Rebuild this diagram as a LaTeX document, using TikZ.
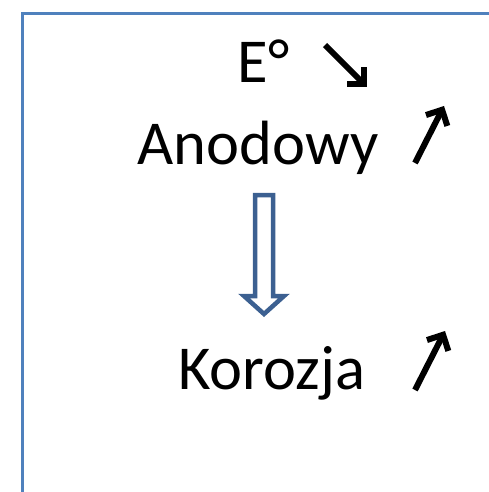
\documentclass[tikz,border=0pt]{standalone}
\usepackage{fontspec}
\setmainfont{Carlito}
\usetikzlibrary{arrows.meta}
\definecolor{frameblue}{RGB}{79,129,189}
\definecolor{arrowblue}{RGB}{60,96,145}
\tikzset{
  x=1pt, y=1pt,
  label text/.style={inner sep=0pt, anchor=base, font=\fontsize{62.5}{75}\selectfont},
  trend/.style={line width=6pt, -{Straight Barb[length=12pt,width=24pt,line width=6pt]}},
  hollow arrow/.style={draw=arrowblue, line width=4.5pt, fill=white, line join=miter}
}
\begin{document}
\begin{tikzpicture}
\useasboundingbox (0,0) rectangle (488,-492);
% frame
\draw[frameblue, line width=2.5pt] (22.5,-495) -- (22.5,-13.5) -- (495,-13.5);
% labels
\node[label text] (e) at (263.5,-83) {E°};
\node[label text] (anod) at (258,-164) {Anodowy};
\node[label text] (koroz) at (272,-389) {Korozja};
% trend arrows
\coordinate (e1) at (325,-45);
\coordinate (e2) at (367,-87);
\draw[trend] (e1) -- (e2);
\coordinate (a1) at (415,-163);
\coordinate (a2) at (444,-106);
\draw[trend] (a1) -- (a2);
\coordinate (k1) at (415,-390);
\coordinate (k2) at (445,-331);
\draw[trend] (k1) -- (k2);
% hollow arrow between labels
\draw[hollow arrow] (255,-195) -- (273,-195) -- (273,-296) -- (284,-296)
  -- (264,-314) -- (244,-296) -- (255,-296) -- cycle;
\end{tikzpicture}
\end{document}
